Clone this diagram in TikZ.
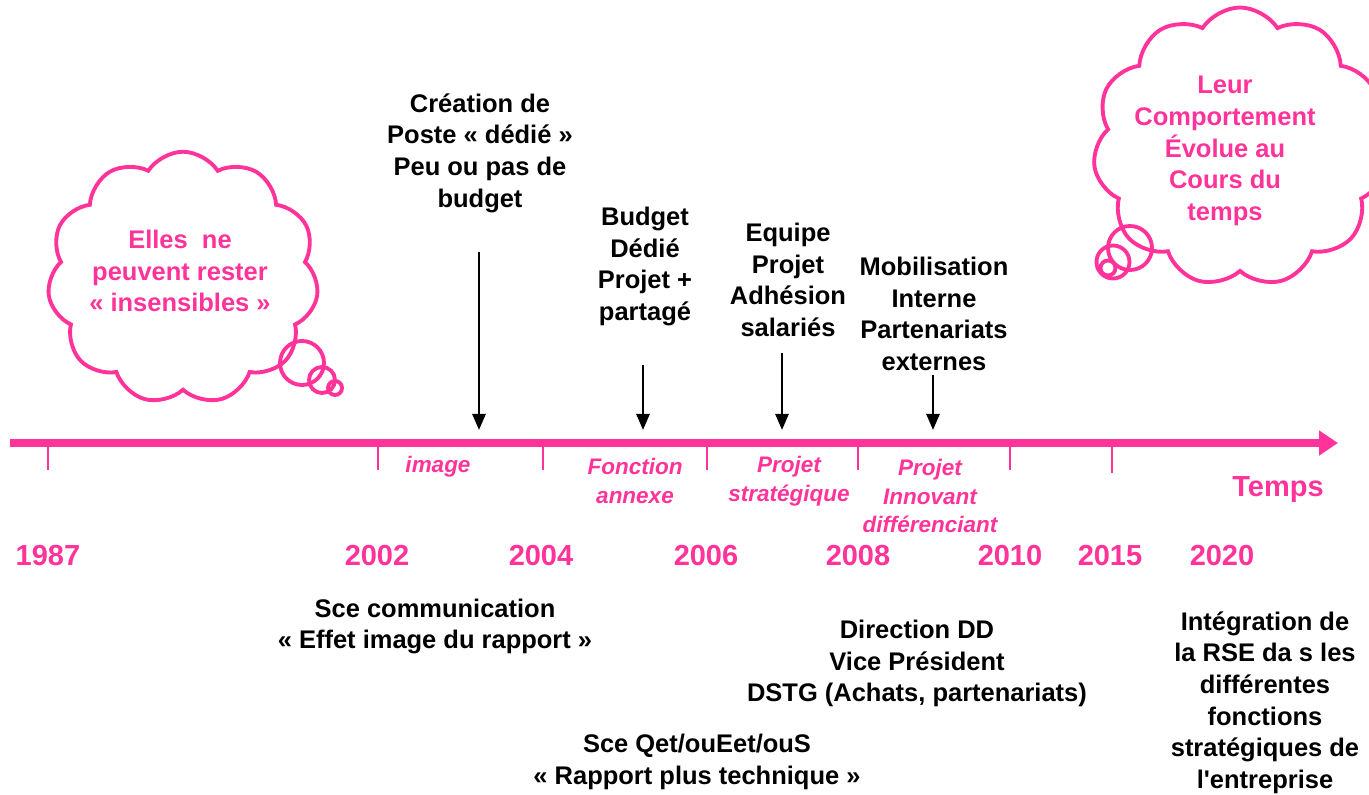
\documentclass[tikz,border=0pt]{standalone}
\usepackage{fontspec}
\setmainfont{Liberation Sans}
\usetikzlibrary{shapes.symbols,arrows.meta}

\definecolor{rosecsr}{RGB}{255,51,153}

\tikzset{
  yearlbl/.style={text=rosecsr,font=\bfseries\fontsize{16.5}{20}\selectfont},
  phaselbl/.style={text=rosecsr,font=\bfseries\itshape\fontsize{12.8}{16.2}\selectfont,align=center},
  eventlbl/.style={font=\bfseries\fontsize{14.5}{18}\selectfont,align=center},
  cloudlbl/.style={text=rosecsr,font=\bfseries\fontsize{14.5}{18}\selectfont,align=center},
  bulle/.style={draw=rosecsr,line width=2.2pt,cloud,cloud puffs=11,cloud puff arc=115,cloud ignores aspect,inner sep=0pt},
  rond/.style={draw=rosecsr,line width=2.2pt},
  tick/.style={rosecsr,line width=1.4pt},
  evtarrow/.style={-{Triangle[length=0.32cm,width=0.26cm]},line width=1.5pt}
}

\begin{document}
\begin{tikzpicture}
\useasboundingbox (0,0) rectangle (27.38,15.9);

% clouds
\node[bulle,minimum width=5.42cm,minimum height=5.05cm] (cloudL) at (3.66,10.34) {};
\draw[rond] (6.04,8.64) circle (0.44);
\draw[rond] (6.44,8.3) circle (0.26);
\draw[rond] (6.7,8.14) circle (0.14);
\node[cloudlbl] (txtL) at (3.6,10.48) {Elles\ \ ne\\peuvent rester\\« insensibles »};

\node[bulle,minimum width=5.88cm,minimum height=5.58cm] (cloudR) at (24.8,12.96) {};
\draw[rond] (22.6,10.94) circle (0.44);
\draw[rond] (22.26,10.66) circle (0.33);
\draw[rond] (22.16,10.54) circle (0.15);
\node[cloudlbl] (txtR) at (24.5,12.88) {Leur\\Comportement\\Évolue au\\Cours du\\temps};

% timeline
\coordinate (tl0) at (0.2,7.04);
\coordinate (tl1) at (26.76,7.04);
\draw[rosecsr,line width=5pt,-{Triangle[length=0.38cm,width=0.48cm]}] (tl0) -- (tl1);

\draw[tick] (0.96,7.04)--(0.96,6.5);
\draw[tick] (7.56,7.04)--(7.56,6.5);
\draw[tick] (10.86,7.04)--(10.86,6.5);
\draw[tick] (14.14,7.04)--(14.14,6.5);
\draw[tick] (17.16,7.04)--(17.16,6.5);
\draw[tick] (20.2,7.04)--(20.2,6.5);
\draw[tick] (22.24,7.04)--(22.24,6.44);

\node[yearlbl] (y1987) at (0.96,4.78) {1987};
\node[yearlbl] (y2002) at (7.54,4.78) {2002};
\node[yearlbl] (y2004) at (10.82,4.78) {2004};
\node[yearlbl] (y2006) at (14.12,4.78) {2006};
\node[yearlbl] (y2008) at (17.16,4.78) {2008};
\node[yearlbl] (y2010) at (20.2,4.78) {2010};
\node[yearlbl] (y2015) at (22.2,4.78) {2015};
\node[yearlbl] (y2020) at (24.44,4.78) {2020};

\node[yearlbl] (temps) at (25.56,6.1) {Temps};

% phases
\node[phaselbl] (phImage) at (8.76,6.56) {image};
\node[phaselbl] (phAnnexe) at (12.7,6.28) {Fonction\\annexe};
\node[phaselbl] (phStrat) at (15.78,6.28) {Projet\\stratégique};
\node[phaselbl] (phInnov) at (18.6,5.98) {Projet\\Innovant\\différenciant};

% events above
\node[eventlbl] (evPoste) at (9.6,12.84) {Création de\\Poste « dédié »\\Peu ou pas de\\budget};
\node[eventlbl] (evBudget) at (12.9,10.57) {Budget\\Dédié\\Projet +\\partagé};
\node[eventlbl] (evEquipe) at (15.76,10.3) {Equipe\\Projet\\Adhésion\\salariés};
\node[eventlbl] (evMobil) at (18.68,9.62) {Mobilisation\\Interne\\Partenariats\\externes};

\coordinate (a1) at (9.58,10.86);  \coordinate (t1) at (9.58,7.3);
\coordinate (a2) at (12.86,8.6);   \coordinate (t2) at (12.86,7.3);
\coordinate (a3) at (15.64,8.84);  \coordinate (t3) at (15.64,7.3);
\coordinate (a4) at (18.66,8.4);   \coordinate (t4) at (18.66,7.3);
\draw[evtarrow] (a1) -- (t1);
\draw[evtarrow] (a2) -- (t2);
\draw[evtarrow] (a3) -- (t3);
\draw[evtarrow] (a4) -- (t4);

% events below
\node[eventlbl] (evSce) at (8.7,3.37) {Sce communication\\« Effet image du rapport »};
\node[eventlbl] (evDir) at (18.34,2.63) {Direction DD\\Vice Président\\DSTG (Achats, partenariats)};
\node[eventlbl] (evQES) at (13.94,0.66) {Sce Qet/ouEet/ouS\\« Rapport plus technique »};
\node[eventlbl] (evRSE) at (25.3,1.85) {Intégration de\\la RSE da s les\\différentes\\fonctions\\stratégiques de\\l\textquotesingle entreprise};

\end{tikzpicture}
\end{document}
